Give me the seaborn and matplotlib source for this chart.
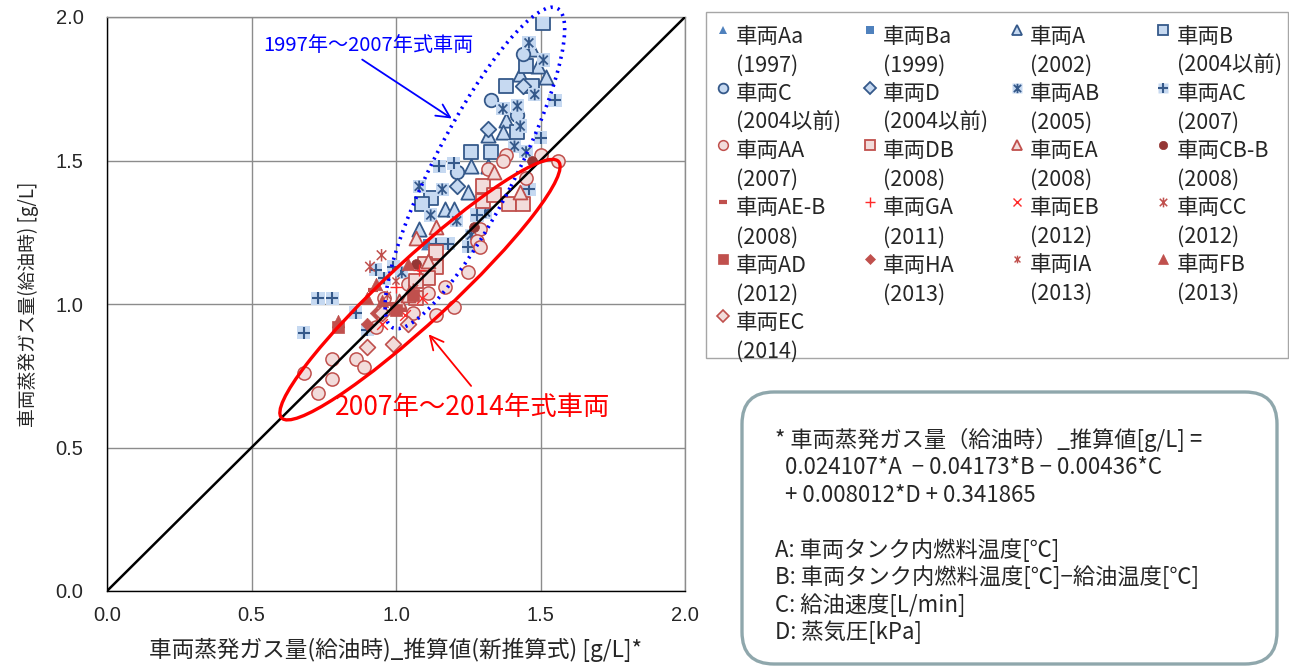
import numpy as np
import matplotlib
matplotlib.use("Agg")
import matplotlib.pyplot as plt
import seaborn as sns
from matplotlib.lines import Line2D
from matplotlib.patches import Ellipse, FancyBboxPatch, Rectangle
from matplotlib.path import Path
from matplotlib.legend_handler import HandlerLine2D

# ---------------- data: (estimated value, measured value) per vehicle ----------------
aa97_x = [1.10]
aa97_y = [1.20]
ba99_x = [1.11]
ba99_y = [1.21]
a02_x = [1.47, 1.49, 1.43, 1.52, 1.38, 1.32, 1.37, 1.26, 1.32, 1.25, 1.17, 1.20, 1.08]
a02_y = [1.89, 1.83, 1.80, 1.79, 1.64, 1.59, 1.60, 1.48, 1.48, 1.39, 1.33, 1.33, 1.26]
b04_x = [1.51, 1.45, 1.38, 1.47, 1.42, 1.26, 1.33, 1.12, 1.09]
b04_y = [1.98, 1.83, 1.76, 1.76, 1.60, 1.53, 1.53, 1.37, 1.35]
c04_x = [1.44, 1.33, 1.42, 1.21]
c04_y = [1.87, 1.71, 1.66, 1.46]
d04_x = [1.44, 1.32, 1.21]
d04_y = [1.76, 1.61, 1.41]
ab05_x = [1.46, 1.51, 1.48, 1.37, 1.42, 1.43, 1.41, 1.45, 1.08, 1.16, 1.12, 1.21, 1.31, 1.26, 1.02]
ab05_y = [1.91, 1.85, 1.73, 1.68, 1.69, 1.62, 1.55, 1.53, 1.41, 1.40, 1.31, 1.29, 1.32, 1.24, 1.11]
ac07_x = [1.55, 1.50, 1.20, 1.15, 1.46, 1.28, 1.25, 1.14, 1.18, 0.93, 0.96, 0.99, 0.73, 0.78, 0.86, 0.90, 0.68]
ac07_y = [1.71, 1.58, 1.49, 1.48, 1.40, 1.31, 1.20, 1.21, 1.21, 1.12, 1.09, 1.13, 1.02, 1.02, 0.97, 0.91, 0.90]
aa07_x = [1.38, 1.37, 1.50, 1.56, 1.32, 1.45, 1.29, 1.28, 1.29, 1.25, 1.17, 1.11, 1.20, 1.14,
          1.04, 0.93, 0.86, 0.78, 0.89, 0.68, 0.78, 0.73, 0.96, 1.06]
aa07_y = [1.52, 1.50, 1.52, 1.50, 1.47, 1.44, 1.26, 1.22, 1.20, 1.11, 1.06, 1.04, 0.99, 0.96,
          1.07, 0.92, 0.81, 0.81, 0.78, 0.76, 0.74, 0.69, 1.02, 0.97]
db08_x = [1.30, 1.30, 1.34, 1.39, 1.44, 1.14, 1.10, 1.14, 1.11, 1.07, 1.07]
db08_y = [1.41, 1.36, 1.38, 1.35, 1.35, 1.18, 1.14, 1.13, 1.09, 1.08, 1.02]
ea08_x = [1.43, 1.34, 1.14, 1.07, 1.11, 1.01, 1.04]
ea08_y = [1.39, 1.46, 1.27, 1.23, 1.15, 1.01, 1.03]
cbb08_x = [1.47, 1.27, 1.07]
cbb08_y = [1.50, 1.27, 1.14]
aeb08_x = [0.98, 1.02, 0.92]
aeb08_y = [1.00, 0.98, 1.05]
ga11_x = [1.00, 1.08]
ga11_y = [1.06, 1.12]
eb12_x = [1.03, 1.09, 0.95]
eb12_y = [0.96, 1.02, 0.93]
cc12_x = [0.95, 0.91, 1.06]
cc12_y = [1.17, 1.13, 1.05]
ad12_x = [0.80, 1.06, 1.00]
ad12_y = [0.92, 1.03, 0.98]
ha13_x = [0.90, 0.93]
ha13_y = [0.93, 0.97]
ia13_x = [0.97, 1.00]
ia13_y = [1.03, 1.08]
fb13_x = [0.80, 1.04, 0.90, 0.95, 0.93]
fb13_y = [0.94, 1.14, 1.02, 1.01, 1.07]
ec14_x = [0.90, 0.99, 0.95, 1.04]
ec14_y = [0.85, 0.86, 0.97, 0.93]

vehicle_names = ["車両Aa", "車両Ba", "車両A", "車両B", "車両C", "車両D", "車両AB", "車両AC",
                 "車両AA", "車両DB", "車両EA", "車両CB-B", "車両AE-B", "車両GA", "車両EB", "車両CC",
                 "車両AD", "車両HA", "車両IA", "車両FB", "車両EC"]
model_years = ["(1997)", "(1999)", "(2002)", "(2004以前)", "(2004以前)", "(2004以前)", "(2005)",
               "(2007)", "(2007)", "(2008)", "(2008)", "(2008)", "(2008)", "(2011)", "(2012)",
               "(2012)", "(2012)", "(2013)", "(2013)", "(2013)", "(2014)"]

diag_x = [0.0, 2.0]
diag_y = [0.0, 2.0]
axis_ticks = [0.0, 0.5, 1.0, 1.5, 2.0]

# ---------------- styling ----------------
sns.set_theme(style="white")
plt.rcParams["font.family"] = ["Noto Sans CJK JP", "DejaVu Sans"]

LB_FACE = "#c6d9f1"
LB_EDGE = "#35598a"
MID_BLUE = "#4f81bd"
R_FACE = "#f2dcdb"
R_EDGE = "#c0504d"
DARK_RED = "#953735"
BRIGHT_RED = "#ff2a2a"

# six-armed star: an "x" crossed by a vertical stroke
STAR = Path([(-1, -1), (1, 1), (-1, 1), (1, -1), (0, -1.3), (0, 1.3)],
            [Path.MOVETO, Path.LINETO, Path.MOVETO, Path.LINETO, Path.MOVETO, Path.LINETO])


# each style: list of layers (scatter kwargs, legend Line2D kwargs)
def filled(marker, face, edge, s, lw=1.0, ms=7.0):
    return [(dict(marker=marker, s=s, facecolor=face, edgecolor=edge, linewidth=lw),
             dict(marker=marker, markersize=ms, markerfacecolor=face, markeredgecolor=edge,
                  markeredgewidth=lw))]


def line_art(marker, color, s, lw=1.0, ms=7.0):
    return [(dict(marker=marker, s=s, color=color, linewidth=lw),
             dict(marker=marker, markersize=ms, color=color, markeredgewidth=lw))]


def boxed(symbol, s=90, ms=7.5):
    bg = (dict(marker="s", s=s, facecolor=LB_FACE, edgecolor="none", linewidth=0),
          dict(marker="s", markersize=ms, markerfacecolor=LB_FACE, markeredgecolor="none"))
    if symbol == "star":
        fg = (dict(marker=STAR, s=s * 0.75, facecolor="none", edgecolor=LB_EDGE, linewidth=1.3),
              dict(marker=STAR, markersize=ms * 0.9, markerfacecolor="none",
                   markeredgecolor=LB_EDGE, markeredgewidth=1.3))
    else:
        fg = (dict(marker="+", s=s * 0.9, color=LB_EDGE, linewidth=1.5),
              dict(marker="+", markersize=ms * 0.95, color=LB_EDGE, markeredgewidth=1.5))
    return [bg, fg]


series = [
    (aa97_x, aa97_y, filled("^", MID_BLUE, "none", 30, 0, 5.5)),
    (ba99_x, ba99_y, filled("s", MID_BLUE, "none", 40, 0, 6)),
    (a02_x, a02_y, filled("^", LB_FACE, LB_EDGE, 105, 1.3)),
    (b04_x, b04_y, filled("s", LB_FACE, LB_EDGE, 100, 1.3)),
    (c04_x, c04_y, filled("o", LB_FACE, LB_EDGE, 95, 1.3)),
    (d04_x, d04_y, filled("D", LB_FACE, LB_EDGE, 62, 1.3, 6)),
    (ab05_x, ab05_y, boxed("star")),
    (ac07_x, ac07_y, boxed("plus")),
    (aa07_x, aa07_y, filled("o", R_FACE, R_EDGE, 90, 1.1)),
    (db08_x, db08_y, filled("s", R_FACE, R_EDGE, 95, 1.3)),
    (ea08_x, ea08_y, filled("^", R_FACE, R_EDGE, 100, 1.3)),
    (cbb08_x, cbb08_y, filled("o", DARK_RED, DARK_RED, 50, 0.5, 6)),
    (aeb08_x, aeb08_y, line_art("_", R_EDGE, 45, 3.0, 6)),
    (ga11_x, ga11_y, line_art("+", BRIGHT_RED, 80, 1.0)),
    (eb12_x, eb12_y, line_art("x", BRIGHT_RED, 60, 1.0, 6)),
    (cc12_x, cc12_y, [(dict(marker=STAR, s=80, facecolor="none", edgecolor=R_EDGE, linewidth=1.1),
                       dict(marker=STAR, markersize=7, markerfacecolor="none",
                            markeredgecolor=R_EDGE, markeredgewidth=1.1))]),
    (ad12_x, ad12_y, filled("s", R_EDGE, R_EDGE, 80, 0.5)),
    (ha13_x, ha13_y, filled("D", R_EDGE, R_EDGE, 40, 0.5, 5.5)),
    (ia13_x, ia13_y, [(dict(marker=STAR, s=45, facecolor="none", edgecolor=R_EDGE, linewidth=1.0),
                       dict(marker=STAR, markersize=5.5, markerfacecolor="none",
                            markeredgecolor=R_EDGE, markeredgewidth=1.0))]),
    (fb13_x, fb13_y, filled("^", R_EDGE, R_EDGE, 80, 0.5)),
    (ec14_x, ec14_y, filled("D", R_FACE, R_EDGE, 65, 1.2, 6.5)),
]

# ---------------- figure ----------------
W, H = 1289, 668
fig = plt.figure(figsize=(W / 100, H / 100), dpi=100)
ax = fig.add_axes([107 / W, 1 - 591 / H, 578 / W, 574 / H])

handles = []
for xs, ys, layers in series:
    proxies = []
    for sc_kw, lg_kw in layers:
        sns.scatterplot(x=xs, y=ys, ax=ax, zorder=3, legend=False, **sc_kw)
        proxies.append(Line2D([], [], linestyle="none", **lg_kw))
    handles.append(proxies[0] if len(proxies) == 1 else tuple(proxies))

sns.lineplot(x=diag_x, y=diag_y, ax=ax, color="black", linewidth=1.8, zorder=4)

ax.set_xlim(0, 2)
ax.set_ylim(0, 2)
ax.set_xticks(axis_ticks)
ax.set_yticks(axis_ticks)
ax.set_xticklabels([f"{t:.1f}" for t in axis_ticks], family="Liberation Sans", fontsize=14.5)
ax.set_yticklabels([f"{t:.1f}" for t in axis_ticks], family="Liberation Sans", fontsize=14.5)
ax.grid(True, color="#8c8c8c", linewidth=1.0)
ax.set_axisbelow(True)
for side in ["left", "bottom"]:
    ax.spines[side].set_color("black")
    ax.spines[side].set_linewidth(1.0)
for side in ["top", "right"]:
    ax.spines[side].set_color("#8c8c8c")
    ax.spines[side].set_linewidth(1.0)
ax.tick_params(axis="both", direction="out", length=3, width=1, color="black")
ax.tick_params(axis="y", pad=14)
ax.tick_params(axis="x", pad=8)

ax.set_xlabel("車両蒸発ガス量(給油時)_推算値(新推算式) [g/L]*", fontsize=16.3, labelpad=9)
ax.set_ylabel("車両蒸発ガス量(給油時) [g/L]", fontsize=13.5, labelpad=12)

# group outlines
ax.add_patch(Ellipse((1.273, 1.474), width=1.25, height=0.28, angle=62.9, fill=False,
                     edgecolor="#0000ff", linewidth=2.6, linestyle=(0, (0.6, 1.4)),
                     zorder=5, clip_on=False))
ax.add_patch(Ellipse((1.083, 1.050), width=1.31, height=0.22, angle=43, fill=False,
                     edgecolor="#ff0000", linewidth=2.4, zorder=5, clip_on=False))

ax.text(0.903, 1.902, "1997年～2007年式車両", color="#0000ff", fontsize=14.5,
        ha="center", va="center", zorder=6)
ax.annotate("", xy=(1.201, 1.641), xytext=(0.875, 1.857),
            arrowprops=dict(arrowstyle="->,head_length=0.8,head_width=0.4", color="#0000ff",
                            lw=1.3), zorder=6)
ax.text(1.266, 0.641, "2007年～2014年式車両", color="#ff0000", fontsize=19,
        ha="center", va="center", zorder=6)
ax.annotate("", xy=(1.107, 0.902), xytext=(1.266, 0.707),
            arrowprops=dict(arrowstyle="->,head_length=0.8,head_width=0.4", color="#ff0000",
                            lw=1.3), zorder=6)


# legend: marker aligned with the first line of each two-line label
class FirstLineHandler(HandlerLine2D):
    def __init__(self, lift, **kw):
        super().__init__(**kw)
        self.lift = lift

    def create_artists(self, legend, orig_handle, xdescent, ydescent, width, height,
                       fontsize, trans):
        arts = super().create_artists(legend, orig_handle, xdescent, ydescent, width,
                                      height, fontsize, trans)
        for a in arts:
            a.set_ydata(np.asarray(a.get_ydata(), dtype=float) + self.lift)
        return arts


labels = [f"{n}\n{y}" for n, y in zip(vehicle_names, model_years)]
ncols = 4
order = [i for c in range(ncols) for i in range(c, len(labels), ncols)]
leg = fig.legend([handles[i] for i in order], [labels[i] for i in order],
                 loc="upper left", bbox_to_anchor=(714.6 / W, 1 - 26.6 / H, 564.8 / W, 0.001),
                 mode="expand", ncols=ncols, fontsize=15.5, frameon=False,
                 handlelength=0.75, handletextpad=0.25, labelspacing=0.29,
                 borderpad=0, borderaxespad=0,
                 handler_map={Line2D: FirstLineHandler(lift=15.8)})
for t in leg.get_texts():
    t.set_linespacing(1.40)
# equal-width columns
for col in leg._legend_handle_box.get_children():
    col.align = "left"
    col.width = 124
# legend frame
fig.patches.append(Rectangle((706, 668 - 358), 582, 346, transform=None, fill=False,
                             edgecolor="#a6a6a6", linewidth=1.0))

# formula box
box = FancyBboxPatch((7.42, 0.04), 5.35, 2.72, boxstyle="round,pad=0,rounding_size=0.32",
                     transform=fig.dpi_scale_trans, facecolor="white", edgecolor="#8fa7ac",
                     linewidth=2.4)
fig.patches.append(box)
formula_lines = ["* 車両蒸発ガス量（給油時）_推算値[g/L] =",
                 "  0.024107*A  − 0.04173*B − 0.00436*C",
                 "  + 0.008012*D + 0.341865",
                 "",
                 "A: 車両タンク内燃料温度[℃]",
                 "B: 車両タンク内燃料温度[℃]−給油温度[℃]",
                 "C: 給油速度[L/min]",
                 "D: 蒸気圧[kPa]"]
for k, line in enumerate(formula_lines):
    fig.text(775 / W, 1 - (440 + 27.5 * k) / H, line, fontsize=16, ha="left", va="center")

fig.savefig("out.png", dpi=100)
